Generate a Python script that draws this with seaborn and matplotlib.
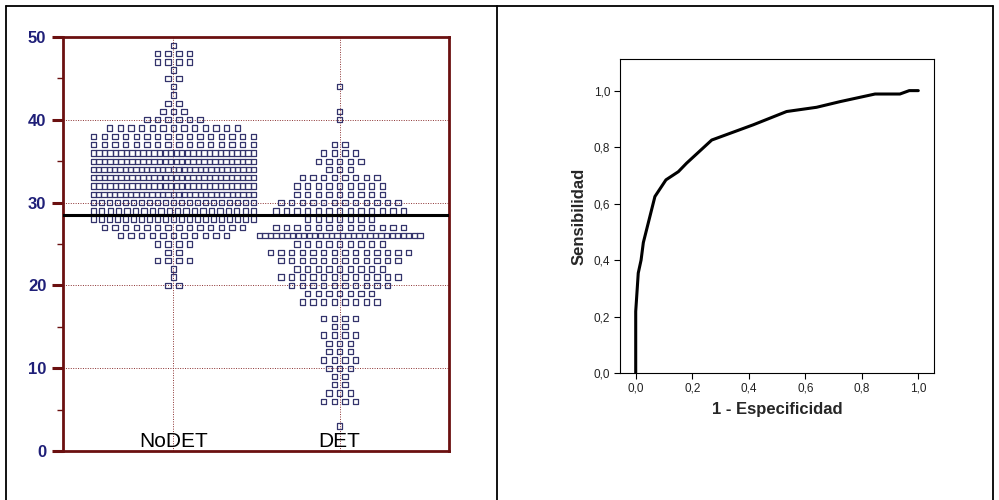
import numpy as np
import pandas as pd
import seaborn as sns
import matplotlib.pyplot as plt
from matplotlib.lines import Line2D

# Dot plot: number of cases at each score, per group
grupos = ['NoDET', 'DET']
valores_nodet = [49, 48, 47, 46, 45, 44, 43, 42, 41, 40, 39, 38, 37, 36, 35, 34, 33, 32,
                 31, 30, 29, 28, 27, 26, 25, 24, 23, 22, 21, 20]
conteos_nodet = [1, 4, 4, 1, 2, 1, 1, 2, 3, 6, 13, 16, 16, 30, 30, 31, 30, 30,
                 31, 21, 20, 21, 14, 11, 4, 2, 4, 1, 1, 2]
valores_det = [44, 41, 40, 37, 36, 35, 34, 33, 32, 31, 30, 29, 28, 27, 26, 25, 24, 23,
               22, 21, 20, 19, 18, 16, 15, 14, 13, 12, 11, 10, 9, 8, 7, 6, 3]
conteos_det = [1, 1, 1, 2, 4, 5, 3, 8, 9, 9, 12, 13, 7, 13, 30, 9, 14, 12,
               9, 12, 10, 7, 8, 4, 2, 4, 3, 3, 4, 3, 2, 2, 3, 4, 1]
punto_corte = 28.5

# ROC curve
fpr = [0.0, 0.0, 0.009, 0.019, 0.027, 0.068, 0.107, 0.151, 0.18, 0.269, 0.416,
       0.534, 0.64, 0.723, 0.847, 0.935, 0.968, 1.0]
tpr = [0.0, 0.218, 0.354, 0.40, 0.462, 0.625, 0.684, 0.713, 0.743, 0.825, 0.879,
       0.926, 0.941, 0.961, 0.988, 0.988, 1.0, 1.0]

sns.set_style('white')
plt.rcParams['font.family'] = ['Liberation Sans', 'DejaVu Sans']

# build long table with x positions of each square (rows centred on the group)
filas = []
for g, (vals, cnts) in enumerate([(valores_nodet, conteos_nodet), (valores_det, conteos_det)]):
    for v, n in zip(vals, cnts):
        paso = 0.064 if n < 2 else min(0.064, 0.965 / (n - 1))
        offs = (np.arange(n) - (n - 1) / 2) * paso
        for o in offs:
            filas.append({'grupo': grupos[g], 'x': g + o, 'valor': v})
df = pd.DataFrame(filas)

fig = plt.figure(figsize=(9.99, 5.0), dpi=100)

# ---- left panel
granate = '#6B1010'
azul = '#1F1F78'
ax1 = fig.add_axes([63 / 999, 49 / 500, 386 / 999, 414 / 500])
for y in [10, 20, 30, 40]:
    ax1.axhline(y, color='#8B3030', lw=0.7, ls=(0, (1, 1.5)), zorder=1)
for x in [0, 1]:
    ax1.axvline(x, color='#8B3030', lw=0.7, ls=(0, (1, 1.5)), zorder=1)
sns.scatterplot(data=df, x='x', y='valor', marker='s', s=15, facecolor='none',
                edgecolor='#34346C', linewidth=0.9, ax=ax1, zorder=3, legend=False)
ax1.axhline(punto_corte, color='black', lw=2.2, zorder=4)
for g, nombre in enumerate(grupos):
    ax1.text(g, 0.5, nombre, ha='center', va='baseline', fontsize=15, color='black', zorder=5)
ax1.set_xlim(-0.665, 1.658)
ax1.set_ylim(0, 50)
ax1.set_xticks([])
ax1.set_yticks([0, 10, 20, 30, 40, 50])
ax1.set_yticks([5, 15, 25, 35, 45], minor=True)
ax1.tick_params(axis='y', which='major', direction='out', length=8, width=2.2,
                color=granate, labelcolor=azul, labelsize=12, pad=4, left=True)
ax1.tick_params(axis='y', which='minor', direction='out', length=4, width=1,
                color=granate, left=True)
for lab in ax1.get_yticklabels():
    lab.set_fontweight('bold')
for sp in ax1.spines.values():
    sp.set_color(granate)
    sp.set_linewidth(2)
ax1.set_xlabel('')
ax1.set_ylabel('')

# ---- right panel
ax2 = fig.add_axes([620 / 999, 127 / 500, 314 / 999, 314 / 500])
roc = pd.DataFrame({'fpr': fpr, 'tpr': tpr})
sns.lineplot(data=roc, x='fpr', y='tpr', estimator=None, sort=False, color='black',
             lw=2.2, ax=ax2)
ax2.set_xlim(-0.0556, 1.0556)
ax2.set_ylim(0, 1.112)
ticks = [0.0, 0.2, 0.4, 0.6, 0.8, 1.0]
etiquetas = [f'{t:.1f}'.replace('.', ',') for t in ticks]
ax2.set_xticks(ticks, etiquetas)
ax2.set_yticks(ticks, etiquetas)
ax2.tick_params(direction='out', length=4, width=0.8, labelsize=8.5, color='black',
                labelcolor='#222222', bottom=True, left=True, pad=3)
for sp in ax2.spines.values():
    sp.set_color('black')
    sp.set_linewidth(0.8)
ax2.set_xlabel('1 - Especificidad', fontsize=12, fontweight='bold', labelpad=5)
ax2.set_ylabel('Sensibilidad', fontsize=12, fontweight='bold', labelpad=5)

# ---- outer table frame
for xs, ys in [([6 / 999, 6 / 999], [0, 494 / 500]),
               ([497 / 999, 497 / 999], [0, 494 / 500]),
               ([993 / 999, 993 / 999], [0, 494 / 500]),
               ([6 / 999, 993 / 999], [494 / 500, 494 / 500])]:
    fig.add_artist(Line2D(xs, ys, transform=fig.transFigure, color='black', lw=1.3))

plt.savefig('out.png', dpi=100)
